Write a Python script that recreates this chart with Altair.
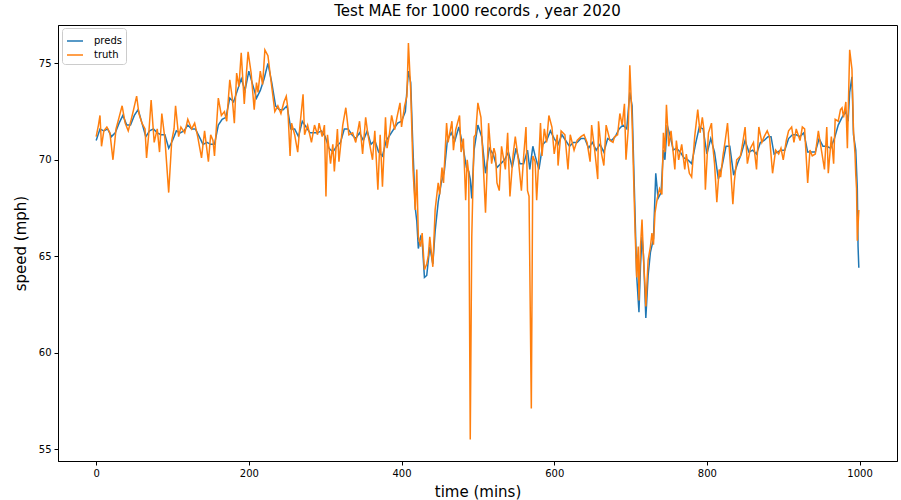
import altair as alt
import pandas as pd

truth_t = [0,3,5,7,10,14,18,22,26,30,34,38,42,46,49,53,56,60,64,66,69,72,76,80,83,86,90,95,99,102,104,108,111,116,
           120,125,129,133,138,142,147,150,153,155,160,164,168,171,175,178,181,184,187,190,194,197,199,203,207,210,212,215,218,221,225,229,234,238,242,246,249,
           251,254,256,260,264,267,271,273,277,282,286,290,292,296,299,301,303,307,310,312,316,318,323,327,331,336,340,345,349,353,356,362,365,369,372,375,379,381,384,387,391,394,398,
           400,404,407,409,412,415,418,420,422,425,427,430,433,435,437,441,444,448,450,453,455,459,461,466,468,471,476,478,481,484,486,488,490,492,495,497,
           500,504,507,510,513,514,518,521,523,525,528,531,536,539,542,546,549,553,557,560,563,565,567,570,572,575,577,580,582,584,587,590,593,597,
           600,604,605,609,614,618,621,626,630,635,639,643,647,649,653,657,658,662,665,668,673,677,679,683,686,689,692,694,697,699,
           702,706,708,710,711,713,715,717,719,720,723,726,728,730,732,735,738,741,743,745,747,750,753,758,760,763,767,771,773,777,780,784,788,791,794,796,798,
           802,806,808,810,813,816,818,821,824,827,830,834,836,839,844,847,850,853,857,861,865,868,872,875,879,882,886,890,894,897,
           900,904,907,911,914,917,922,925,928,932,935,938,942,946,950,954,957,959,963,966,968,972,975,977,979,982,984,985,987,990,992,994,995,996,997,999]
truth_v = [71.2,71.8,72.3,70.7,71.5,71.7,71.4,70.0,71.6,72.2,72.8,71.9,71.5,72.1,72.6,73.3,72.4,71.9,71.6,70.1,71.4,73.1,70.9,71.6,70.4,72.4,71.1,68.3,71.0,71.6,72.8,71.2,71.7,71.4,
           72.1,71.6,71.9,71.2,70.1,71.5,69.9,71.3,71.0,70.2,73.2,72.3,72.5,72.0,74.15,73.3,71.9,74.5,73.8,75.55,72.9,74.6,75.6,74.5,72.6,74.0,73.5,74.6,73.9,75.7,75.4,74.1,72.5,72.8,72.4,73.0,73.3,
           72.7,70.2,71.9,71.3,70.4,71.8,73.4,71.3,71.8,70.9,71.8,71.3,71.9,71.2,71.8,68.1,71.3,69.8,70.8,69.4,71.6,69.9,71.8,72.7,71.3,71.4,70.9,72.0,70.3,72.2,71.3,70.0,71.5,68.45,71.3,68.6,72.2,70.6,71.3,72.3,71.56,72.2,72.95,
           71.7,72.8,73.3,76.05,73.6,69.5,67.4,69.5,66.0,65.5,66.2,64.3,64.6,65.0,66.0,64.45,67.4,68.8,68.2,69.6,68.8,71.9,70.9,72.0,70.5,71.56,72.3,70.4,71.1,67.9,70.0,69.3,55.5,66.0,71.2,71.3,
           72.95,72.2,69.8,67.25,70.5,71.9,69.8,70.6,70.3,68.8,68.4,70.7,69.5,71.4,68.1,70.2,71.2,70.0,68.4,70.2,71.7,68.4,68.1,57.1,70.2,69.9,67.9,70.2,71.9,70.2,71.6,70.9,72.3,71.7,
           70.3,71.3,69.7,71.5,71.3,69.5,71.3,70.5,71.0,71.2,71.3,70.9,69.9,71.8,70.5,69.0,72.0,70.3,69.7,71.8,71.0,70.9,71.2,71.3,72.4,71.8,72.9,70.0,71.6,74.9,
           72.0,66.2,63.9,65.5,62.7,65.5,66.9,64.8,63.4,62.4,64.8,65.5,66.2,65.6,67.25,68.0,68.5,68.2,71.4,70.4,72.85,70.7,71.5,69.5,71.0,70.0,70.8,69.5,70.3,69.3,69.1,71.2,72.6,71.4,72.2,71.6,68.45,
           71.4,71.9,70.6,69.8,67.8,69.5,69.1,70.2,71.0,71.9,70.2,67.7,68.9,70.0,70.2,70.9,71.7,69.8,70.6,70.9,69.5,71.7,70.9,71.2,71.5,71.2,69.3,70.5,70.3,70.6,
           70.0,71.0,71.5,71.7,70.9,71.6,71.0,71.7,71.6,68.8,70.5,70.2,70.3,71.5,70.5,69.5,71.7,69.3,71.2,69.8,72.1,72.0,72.6,72.7,72.2,73.0,70.6,72.3,75.7,74.7,71.5,70.3,69.2,68.5,65.8,67.4]

preds_t = [0,5,10,15,20,25,30,35,40,45,50,55,60,65,70,75,80,85,90,95,100,105,110,115,120,125,130,135,140,145,150,155,
           160,165,170,175,180,185,190,195,200,205,210,215,220,225,230,235,240,245,250,255,260,265,270,275,280,285,290,295,
           300,305,310,315,320,325,330,335,340,345,350,355,360,365,370,375,380,385,390,395,400,405,409,412,415,418,420,422,425,427,430,433,437,441,444,448,452,456,
           460,465,470,475,480,485,488,490,492,495,500,505,510,515,520,525,530,535,540,545,550,555,560,565,568,572,575,580,585,590,595,
           600,605,610,615,620,625,630,635,640,645,650,655,660,665,670,675,680,685,690,695,699,702,706,708,711,713,715,717,720,723,726,730,733,736,740,743,745,748,752,756,
           760,765,770,775,780,785,790,795,800,805,810,815,820,825,830,835,840,845,850,855,860,865,870,875,880,884,888,892,897,
           902,907,912,917,922,927,932,937,942,947,952,957,962,967,972,977,982,985,987,990,992,995,997,998,999]
preds_v = [71.0,71.6,71.5,71.6,71.2,71.4,71.9,72.3,71.8,71.8,72.3,72.6,71.9,71.2,71.5,71.6,71.4,71.3,71.3,70.6,71.0,71.5,71.4,71.5,71.8,71.6,71.6,71.2,70.8,70.9,70.8,70.8,
           71.8,72.1,72.2,73.2,73.0,73.6,74.2,73.6,74.6,73.9,73.2,73.6,74.2,75.0,74.0,72.8,72.6,72.6,72.8,71.6,71.6,71.2,72.0,71.7,71.4,71.4,71.4,71.5,
           71.2,70.6,70.4,70.7,70.9,71.6,71.6,71.3,71.1,71.4,71.0,71.5,70.8,71.0,70.4,70.2,71.0,71.3,71.6,71.9,72.0,72.5,74.6,74.0,70.5,67.5,66.8,65.4,66.0,65.8,63.9,64.0,65.5,64.6,66.3,67.8,68.8,69.4,
           71.0,71.4,71.0,71.7,70.8,69.6,69.4,69.0,68.0,70.5,71.8,71.2,69.3,70.6,70.3,69.6,69.8,70.0,70.4,69.6,70.6,69.8,69.8,70.5,69.5,70.7,70.2,69.5,70.8,71.0,71.5,
           71.1,70.8,71.3,71.0,70.7,70.9,70.9,71.1,71.1,70.6,70.9,70.5,70.8,70.4,71.1,71.0,71.2,71.6,71.8,71.6,73.5,72.8,67.0,64.0,62.1,64.5,66.0,65.0,61.8,64.0,65.2,65.9,69.3,68.0,68.3,70.5,70.0,71.8,71.2,70.5,
           70.6,70.4,70.1,70.0,69.8,70.8,71.7,71.6,70.3,71.1,70.4,69.0,69.7,70.7,70.7,69.2,69.8,70.3,71.0,70.4,70.5,70.3,70.9,71.0,71.2,71.2,70.3,70.4,70.5,
           70.5,71.1,71.3,71.3,71.2,71.4,70.4,70.4,70.4,71.1,70.7,70.7,70.6,71.1,71.8,72.2,72.5,72.0,73.5,74.3,71.3,70.5,68.5,65.5,64.4]

series_names = ["preds", "truth"]
series_colors = ["#1f77b4", "#ff7f0e"]
x_ticks = [0, 200, 400, 600, 800, 1000]
y_ticks = [55, 60, 65, 70, 75]

preds_df = pd.DataFrame({"t": preds_t, "v": preds_v, "series": "preds"})
truth_df = pd.DataFrame({"t": truth_t, "v": truth_v, "series": "truth"})

FONT = "DejaVu Sans"

x_enc = alt.X("t:Q", scale=alt.Scale(domain=[-50, 1049], nice=False, zero=False),
              axis=alt.Axis(values=x_ticks, title="time (mins)", grid=False, format="d",
                            titleFontSize=15, titleFont=FONT, titleFontWeight="normal",
                            titleColor="#000", titlePadding=6,
                            labelFontSize=10, labelFont=FONT, labelColor="#000",
                            tickSize=4, tickColor="#000", domainColor="#000", labelPadding=3))
y_enc = alt.Y("v:Q", scale=alt.Scale(domain=[54.38, 76.99], nice=False, zero=False),
              axis=alt.Axis(values=y_ticks, title="speed (mph)", grid=False,
                            titleFontSize=15, titleFont=FONT, titleFontWeight="normal",
                            titleColor="#000", titlePadding=10,
                            labelFontSize=10, labelFont=FONT, labelColor="#000",
                            tickSize=4, tickColor="#000", domainColor="#000", labelPadding=3))
color_enc = alt.Color("series:N",
                      scale=alt.Scale(domain=series_names, range=series_colors),
                      legend=alt.Legend(title=None, orient="none", legendX=4, legendY=3,
                                        symbolType="stroke", symbolSize=256, symbolStrokeWidth=1.5,
                                        labelFontSize=10, labelFont=FONT, labelColor="#000",
                                        fillColor="white", strokeColor="#cccccc", cornerRadius=3,
                                        padding=4, rowPadding=0, labelOffset=10))

preds_line = alt.Chart(preds_df).mark_line(strokeWidth=1.5).encode(x=x_enc, y=y_enc, color=color_enc)
truth_line = alt.Chart(truth_df).mark_line(strokeWidth=1.5).encode(x=x_enc, y=y_enc, color=color_enc)

chart = alt.layer(preds_line, truth_line).properties(
    width=839, height=436,
    background="white",
    autosize=alt.AutoSizeParams(type="none"),
    padding={"left": 58, "top": 25, "right": 4, "bottom": 39},
    title=alt.TitleParams("Test MAE for 1000 records , year 2020", fontSize=15, font=FONT,
                          fontWeight="normal", color="#000", anchor="middle", offset=6),
).configure_view(stroke="#000", strokeWidth=1)

chart.save("out.html", embed_options={"renderer": "svg", "actions": False})
